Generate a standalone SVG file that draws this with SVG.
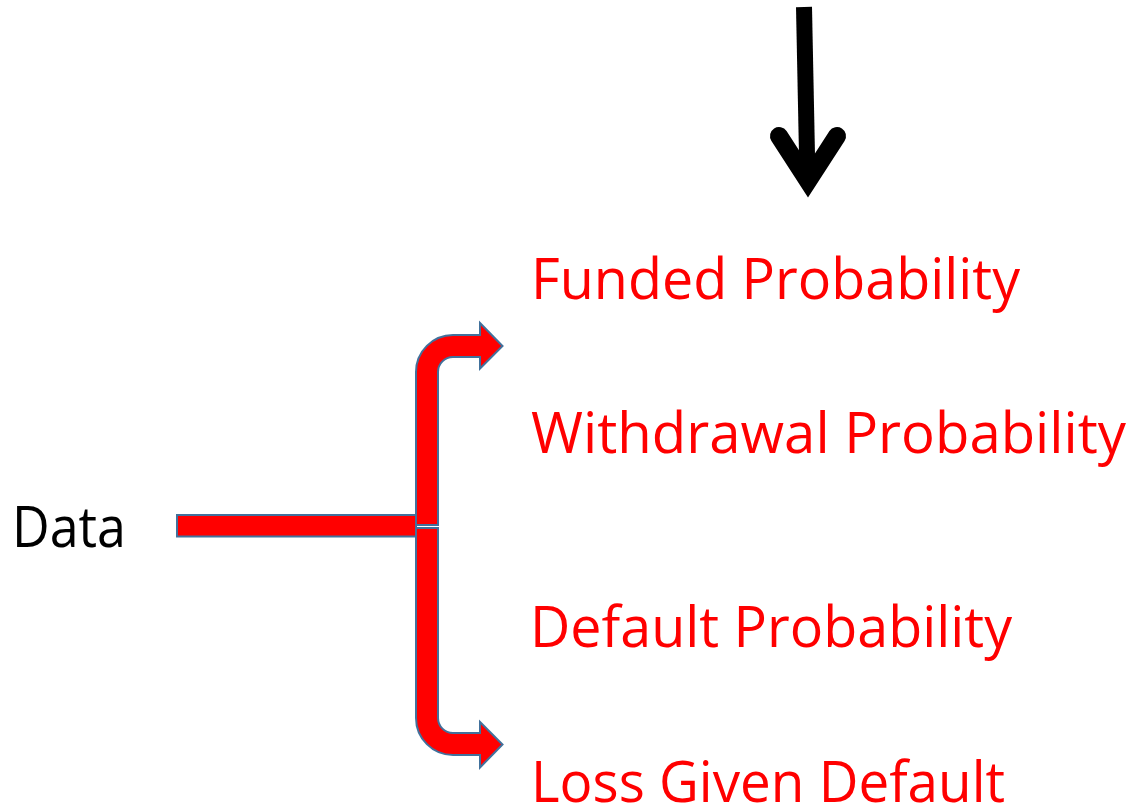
<svg xmlns="http://www.w3.org/2000/svg" width="1135" height="807" viewBox="0 0 1135 807">
  <style>
    .lbl { font-family: "Open Sans", "Noto Sans", "Liberation Sans", sans-serif; font-size: 56px; }
    .red { fill: #FF0000; }
    .blk { fill: #000000; }
    .bar { fill: #FF0000; stroke: #41719C; stroke-width: 2; stroke-linejoin: miter; }
  </style>
  <rect width="1135" height="807" fill="#FFFFFF"/>

  <!-- connectors -->
  <g id="connectors">
    <!-- black downward arrow -->
    <g id="down-arrow" stroke="#000000" fill="none">
      <line x1="804" y1="7" x2="807.5" y2="180" stroke-width="16" stroke-linecap="butt"/>
      <polyline points="779,136 808,181 837,136" stroke-width="18" stroke-linecap="round" stroke-linejoin="miter" stroke-miterlimit="6"/>
    </g>
    <!-- feed bar from Data -->
    <rect class="bar" x="177" y="515" width="239" height="21.5"/>
    <!-- upper bent arrow -->
    <path class="bar" d="M416,525 L416,372 A37,37 0 0 1 453,335 L480,335 L480,323 L502.5,346 L480,368.5 L480,357 L453,357 A15,15 0 0 0 438,372 L438,525 Z"/>
    <!-- lower bent arrow -->
    <path class="bar" d="M416,528 L416,718 A37,37 0 0 0 453,755 L480,755 L480,767.5 L502.5,744.5 L480,722 L480,733 L453,733 A15,15 0 0 1 438,718 L438,528 Z"/>
  </g>

  <g id="node-data">
    <text class="lbl blk" x="12" y="547" textLength="114" lengthAdjust="spacingAndGlyphs">Data</text>
  </g>
  <g id="node-funded">
    <text class="lbl red" x="531" y="299" textLength="489" lengthAdjust="spacingAndGlyphs">Funded Probability</text>
  </g>
  <g id="node-withdrawal">
    <text class="lbl red" x="531" y="453" textLength="595" lengthAdjust="spacingAndGlyphs">Withdrawal Probability</text>
  </g>
  <g id="node-default">
    <text class="lbl red" x="530" y="647" textLength="482" lengthAdjust="spacingAndGlyphs">Default Probability</text>
  </g>
  <g id="node-lgd">
    <text class="lbl red" x="531" y="802" textLength="474" lengthAdjust="spacingAndGlyphs">Loss Given Default</text>
  </g>
</svg>
